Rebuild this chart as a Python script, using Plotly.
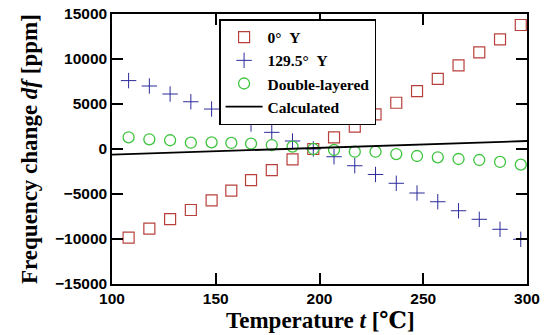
import plotly.graph_objects as go

temperature = [108, 118, 128, 138, 148, 157.5, 167, 177, 187, 197,
               207, 217, 227, 237, 247, 257, 267, 277, 287, 297]
df_0y = [-9850, -8850, -7800, -6780, -5700, -4630, -3450, -2350, -1150, 0,
         1300, 2480, 3850, 5140, 6440, 7800, 9300, 10740, 12190, 13780]
df_1295y = [7600, 7000, 6110, 5250, 4440, 3660, 2780, 1850, 890, 0,
            -860, -1860, -2830, -3810, -4890, -5860, -6860, -7810, -8920, -10030]
df_double = [1300, 1080, 970, 700, 740, 670, 590, 440, 260, 0,
             -110, -300, -300, -560, -780, -920, -1110, -1220, -1440, -1740]
calc_t = [100, 300]
calc_df = [-630, 890]

x_ticks = [100, 150, 200, 250, 300]
y_ticks = [-15000, -10000, -5000, 0, 5000, 10000, 15000]
y_tick_text = ["−15000", "−10000", "−5000", "0", "5000", "10000", "15000"]

serif = "Times New Roman, Liberation Serif, DejaVu Serif, serif"
sans = "Arial, Liberation Sans, DejaVu Sans, sans-serif"

fig = go.Figure()
fig.add_trace(go.Scatter(
    x=temperature, y=df_0y, mode="markers", name="<b>0°\u00a0\u00a0Y</b>",
    marker=dict(symbol="square-open", size=11, color="#b8403c", line=dict(width=1.2))))
fig.add_trace(go.Scatter(
    x=temperature, y=df_1295y, mode="markers", name="<b>129.5°\u00a0\u00a0Y</b>",
    marker=dict(symbol="cross-thin-open", size=11, color="#2b2b9c", line=dict(width=1.0, color="#2b2b9c"))))
fig.add_trace(go.Scatter(
    x=temperature, y=df_double, mode="markers", name="<b>Double-layered</b>",
    marker=dict(symbol="circle-open", size=11, color="#3fc43f", line=dict(width=1.3))))
fig.add_trace(go.Scatter(
    x=calc_t, y=calc_df, mode="lines", name="<b>Calculated</b>",
    line=dict(color="black", width=1.8)))

fig.update_layout(
    width=547, height=335,
    margin=dict(l=111.5, r=19.5, t=14, b=51, autoexpand=False),
    paper_bgcolor="white", plot_bgcolor="white",
    showlegend=True,
    legend=dict(x=0.258, y=0.981, xanchor="left", yanchor="top",
                bgcolor="white", bordercolor="black", borderwidth=1.5,
                font=dict(family=serif, size=15.5, color="black"),
                tracegroupgap=0, itemwidth=37),
    annotations=[
        dict(text="<b>Frequency change <i>df</i> [ppm]</b>", xref="paper", yref="paper",
             x=-0.2, y=0.5, xanchor="center", yanchor="middle", textangle=-90,
             showarrow=False, font=dict(family=serif, size=23, color="black")),
        dict(text="<b>Temperature <i>t</i> [℃]</b>", xref="paper", yref="paper",
             x=0.5036, y=-0.137, xanchor="center", yanchor="middle",
             showarrow=False, font=dict(family=serif, size=23, color="black")),
    ],
)
fig.update_xaxes(
    range=[100, 300], tickvals=x_ticks, ticktext=[str(v) for v in x_ticks],
    ticks="inside", ticklen=11, tickwidth=1.5, tickcolor="black",
    showline=True, linecolor="black", linewidth=1.5, mirror="ticks",
    showgrid=False, zeroline=False, automargin=False,
    tickfont=dict(family=sans, size=15.5, color="black", weight="bold"),
)
fig.update_yaxes(
    range=[-15000, 15000], tickvals=y_ticks, ticktext=y_tick_text,
    ticks="inside", ticklen=11, tickwidth=1.5, tickcolor="black",
    showline=True, linecolor="black", linewidth=1.5, mirror="ticks",
    showgrid=False, zeroline=False, automargin=False,
    tickfont=dict(family=sans, size=15.5, color="black", weight="bold"),
)

fig.write_html("out.html", config={"displayModeBar": False},
               post_script="document.body.style.margin='0';document.body.style.padding='0';")
